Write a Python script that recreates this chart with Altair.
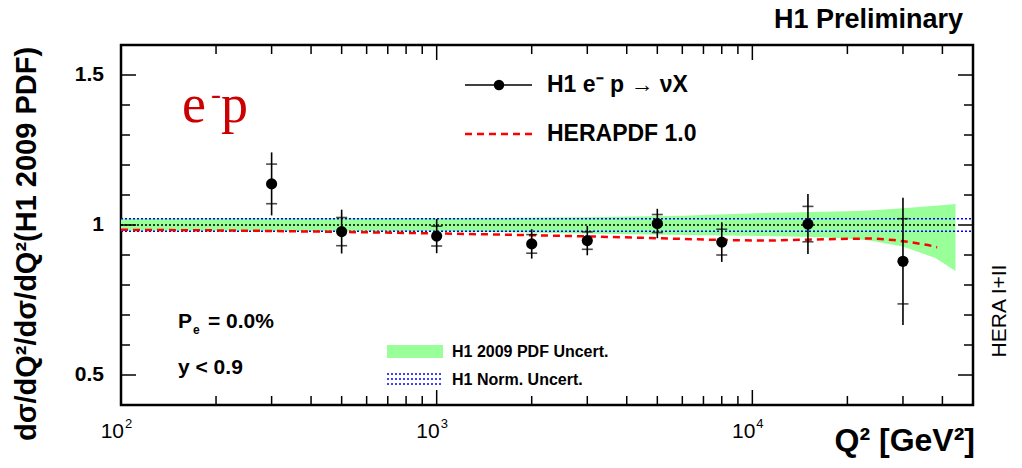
import altair as alt
import pandas as pd

# ---------------- data ----------------
q2 = [300, 500, 1000, 2000, 3000, 5000, 8000, 15000, 30000]
ratio = [1.137, 0.978, 0.963, 0.937, 0.948, 1.005, 0.943, 1.003, 0.879]
stat_err = [0.066, 0.047, 0.033, 0.031, 0.029, 0.030, 0.043, 0.059, 0.142]
tot_err = [0.105, 0.073, 0.057, 0.049, 0.049, 0.049, 0.066, 0.100, 0.212]

herapdf_q2 = [100, 200, 300, 500, 1000, 2000, 3000, 5000, 8000, 11000, 15000,
              20000, 24000, 28000, 32000, 36000, 38500]
herapdf_val = [0.984, 0.982, 0.980, 0.977, 0.972, 0.966, 0.962, 0.956, 0.950,
               0.948, 0.951, 0.954, 0.955, 0.950, 0.942, 0.933, 0.926]

band_q2 = [100, 1000, 3000, 6000, 11000, 15500, 20000, 23500, 30000, 38000, 44000]
band_hi = [1.022, 1.023, 1.026, 1.031, 1.040, 1.043, 1.046, 1.048, 1.056, 1.064, 1.070]
band_lo = [0.982, 0.979, 0.972, 0.967, 0.963, 0.960, 0.955, 0.948, 0.928, 0.890, 0.847]

norm_unc = 0.021
x_range = [100, 50000]
y_range = [0.4, 1.6]

x_major = [100, 1000, 10000]
x_exp = ["2", "3", "4"]
x_minor = [200, 300, 400, 500, 600, 700, 800, 900,
           2000, 3000, 4000, 5000, 6000, 7000, 8000, 9000,
           20000, 30000, 40000]
y_major = [0.5, 1.0, 1.5]
y_labels = ["0.5", "1", "1.5"]
y_minor = [0.6, 0.7, 0.8, 0.9, 1.1, 1.2, 1.3, 1.4]

# ---------------- layout ----------------
SANS = "Liberation Sans"
SERIF = "Liberation Serif"
W, H = 852, 360
MAJ, MIN = 15, 9

XS = alt.Scale(type="log", domain=x_range)
YS = alt.Scale(domain=y_range)


def X(f):
    return alt.X(f, type="quantitative", scale=XS, axis=None)


def Y(f):
    return alt.Y(f, type="quantitative", scale=YS, axis=None)


# band
band = alt.Chart(pd.DataFrame({"q": band_q2, "lo": band_lo, "hi": band_hi})).mark_area(
    color="#99ff99", opacity=1).encode(x=X("q"), y=Y("lo"), y2="hi")

# normalisation lines
norm_df = pd.DataFrame({"x0": [x_range[0]] * 2, "x1": [x_range[1]] * 2,
                        "y": [1 - norm_unc, 1 + norm_unc]})
norm = alt.Chart(norm_df).mark_rule(color="#0000ff", strokeDash=[2, 2], strokeWidth=1.5).encode(
    x=X("x0"), x2="x1", y=Y("y"))
center_df = pd.DataFrame({"x0": [x_range[0]], "x1": [band_q2[-1]], "y": [1.0]})
center = alt.Chart(center_df).mark_rule(color="black", strokeDash=[2, 2], strokeWidth=1.5).encode(
    x=X("x0"), x2="x1", y=Y("y"))

# HERAPDF line
hera = alt.Chart(pd.DataFrame({"q": herapdf_q2, "v": herapdf_val})).mark_line(
    color="#ff0000", strokeDash=[7, 5], strokeWidth=2.5).encode(x=X("q"), y=Y("v"))

# data
pts = pd.DataFrame({"q": q2, "r": ratio, "s": stat_err, "t": tot_err})
pts["tlo"] = pts["r"] - pts["t"]
pts["thi"] = pts["r"] + pts["t"]
err = alt.Chart(pts).mark_rule(color="black", strokeWidth=1.6).encode(
    x=X("q"), y=Y("tlo"), y2="thi")
stat_df = pd.DataFrame({"q": q2 + q2,
                        "v": [r - s for r, s in zip(ratio, stat_err)] +
                             [r + s for r, s in zip(ratio, stat_err)]})
stat = alt.Chart(stat_df).mark_tick(orient="horizontal", size=11, thickness=1.6, color="black").encode(
    x=X("q"), y=Y("v"))
dots = alt.Chart(pts).mark_circle(size=125, color="black", opacity=1).encode(x=X("q"), y=Y("r"))


# frame ticks
def xt(vals, ln):
    d = pd.DataFrame({"v": vals})
    b = alt.Chart(d).mark_rule(color="black", strokeWidth=1.5).encode(
        x=X("v"), y=alt.value(H), y2=alt.value(H - ln))
    t = alt.Chart(d).mark_rule(color="black", strokeWidth=1.5).encode(
        x=X("v"), y=alt.value(0), y2=alt.value(ln))
    return [b, t]


def yt(vals, ln):
    d = pd.DataFrame({"v": vals})
    l = alt.Chart(d).mark_rule(color="black", strokeWidth=1.5).encode(
        y=Y("v"), x=alt.value(0), x2=alt.value(ln))
    r = alt.Chart(d).mark_rule(color="black", strokeWidth=1.5).encode(
        y=Y("v"), x=alt.value(W), x2=alt.value(W - ln))
    return [l, r]


ticks = xt(x_major, MAJ) + xt(x_minor, MIN) + yt(y_major, MAJ) + yt(y_minor, MIN)

# tick labels
xl_df = pd.DataFrame({"v": x_major, "e": x_exp, "b": ["10"] * 3})
xlab = alt.Chart(xl_df).mark_text(align="right", baseline="middle", dx=3, fontSize=21,
                                   font=SANS, color="black").encode(
    x=X("v"), y=alt.value(H + 27), text="b:N")
xexp = alt.Chart(xl_df).mark_text(align="left", baseline="middle", dx=4, fontSize=13,
                                   font=SANS, color="black").encode(
    x=X("v"), y=alt.value(H + 19), text="e:N")
yl_df = pd.DataFrame({"v": y_major, "t": y_labels})
ylab = alt.Chart(yl_df).mark_text(align="right", baseline="middle", fontSize=21,
                                   font=SANS, fontWeight="bold", color="black").encode(
    y=Y("v"), x=alt.value(-17), text="t:N")


def label(txt, x, y, size, weight="normal", align="left", angle=0, color="black",
          font=SANS, baseline="middle"):
    return alt.Chart(pd.DataFrame({"t": [txt]})).mark_text(
        align=align, baseline=baseline, fontSize=size, fontWeight=weight, angle=angle,
        color=color, font=font).encode(text="t:N", x=alt.value(x), y=alt.value(y))


texts = [
    label("H1 Preliminary", 842, -25, 27, "bold", "right"),
    label("Q² [GeV²]", 854, 396, 32, "bold", "right"),
    label("dσ/dQ²/dσ/dQ²(H1 2009 PDF)", -94, 199, 29, "bold", "center", 270),
    label("HERA I+II", 879, 266, 21, "normal", "center", 270),
    label("e", 61, 77, 54, "normal", "left", 0, "#cc0000", SERIF, "alphabetic"),
    label("-", 90, 50, 30, "normal", "left", 0, "#cc0000", SERIF, "middle"),
    label("p", 100, 77, 54, "normal", "left", 0, "#cc0000", SERIF, "alphabetic"),
    label("P", 57, 277, 21, "bold"),
    label("e", 72, 285, 12, "bold"),
    label("= 0.0%", 87, 277, 21, "bold"),
    label("y < 0.9", 57, 323, 21, "bold"),
    label("H1 e⁻ p → νX", 426, 40, 23, "bold"),
    label("HERAPDF 1.0", 426, 89, 23, "bold"),
    label("H1 2009 PDF Uncert.", 331, 307, 16, "bold"),
    label("H1 Norm. Uncert.", 331, 335, 16, "bold"),
]

one = pd.DataFrame({"k": [0]})
leg = [
    alt.Chart(one).mark_rule(color="black", strokeWidth=1.5).encode(
        x=alt.value(344), x2=alt.value(411), y=alt.value(40)),
    alt.Chart(one).mark_circle(size=110, color="black", opacity=1).encode(
        x=alt.value(378), y=alt.value(40)),
    alt.Chart(one).mark_rule(color="#ff0000", strokeDash=[7, 5], strokeWidth=2.5).encode(
        x=alt.value(344), x2=alt.value(411), y=alt.value(89)),
    alt.Chart(one).mark_rect(color="#99ff99").encode(
        x=alt.value(266), x2=alt.value(322), y=alt.value(300), y2=alt.value(313)),
]
for yy in (329, 334, 339):
    leg.append(alt.Chart(one).mark_rule(color="#0000ff", strokeDash=[2, 2], strokeWidth=1.3).encode(
        x=alt.value(266), x2=alt.value(322), y=alt.value(yy)))

chart = alt.layer(
    band, norm, center, hera, err, stat, dots, *ticks, xlab, xexp, ylab, *leg, *texts
).properties(
    width=W, height=H,
    background="white",
    autosize=alt.AutoSizeParams(type="none"),
    padding={"left": 121, "top": 45, "right": 49, "bottom": 63},
).configure_view(stroke="black", strokeWidth=2.5)

chart.save("out.html", embed_options={"renderer": "svg", "actions": False})
